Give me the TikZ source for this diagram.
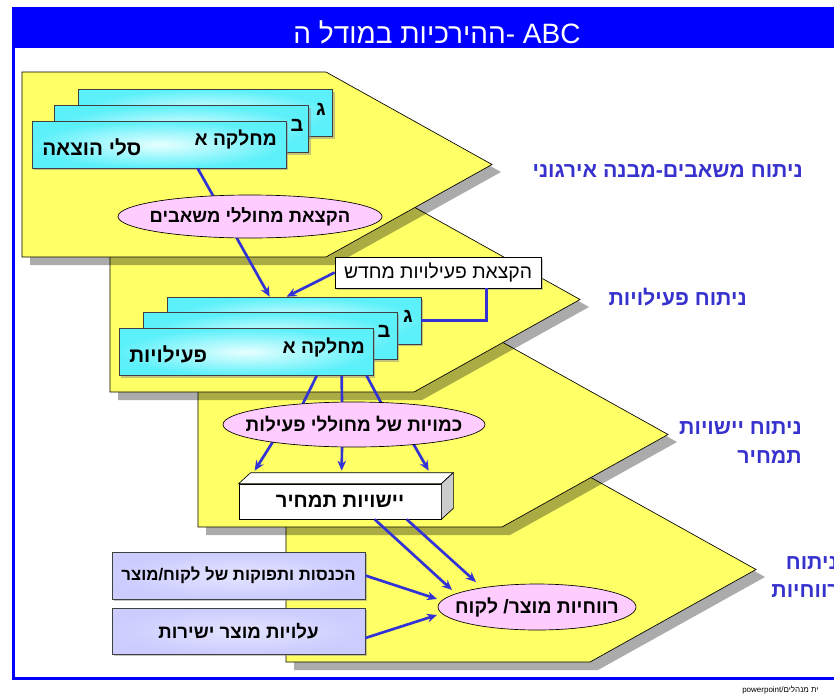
\documentclass[tikz,border=0pt]{standalone}
\usepackage{fontspec}
\setmainfont{Liberation Sans}
\newfontfamily\hebfont[Script=Hebrew]{Liberation Sans}
\TeXXeTstate=1
\usetikzlibrary{shapes.geometric,arrows.meta,calc,shadows}
\newcommand\heb[1]{{\hebfont\beginR #1\endR}}
\definecolor{titleblue}{RGB}{0,0,255}
\definecolor{layeryellow}{RGB}{255,255,102}
\definecolor{cyanedge}{RGB}{92,240,250}
\definecolor{cyanmid}{RGB}{230,255,255}
\definecolor{pinkfill}{RGB}{255,204,255}
\definecolor{lavender}{RGB}{204,204,255}
\definecolor{connblue}{RGB}{50,50,215}
\definecolor{labelblue}{RGB}{55,50,205}
\begin{document}
\begin{tikzpicture}[x=0.75pt,y=-0.75pt,
  layer/.style={fill=layeryellow,draw=black,line width=0.5pt},
  lshadow/.style={fill=black,fill opacity=0.33},
  cbox/.style={rectangle,draw=black!75,line width=0.5pt,inner color=cyanmid,outer color=cyanedge,
    minimum width=190.5pt,minimum height=35.25pt,inner sep=0pt,
    drop shadow={shadow xshift=1.5pt,shadow yshift=-1.5pt,fill=black!45}},
  lbox/.style={rectangle,draw=black!75,line width=0.5pt,inner color=lavender!55,outer color=lavender,
    minimum width=189.75pt,inner sep=0pt,
    drop shadow={shadow xshift=1.5pt,shadow yshift=-1.5pt,fill=black!45}},
  ell/.style={ellipse,draw=black,line width=0.5pt,fill=pinkfill,inner sep=0pt},
  txt/.style={font=\bfseries\fontsize{15}{18}\selectfont,inner sep=0pt},
  lbl/.style={font=\bfseries\fontsize{16}{19}\selectfont,text=labelblue,inner sep=0pt},
  conn/.style={draw=connblue,line width=2pt},
  arr/.style={conn,-{Stealth[length=7.5pt,width=6.5pt]}}
]
\useasboundingbox (0,0) rectangle (834,693);
\fill[white] (0,0) rectangle (834,693);
% frame
\fill[titleblue] (12,7) rectangle (840,48);
\node[white,font=\fontsize{21}{24}\selectfont,anchor=base,inner sep=0pt] (title) at (437,43) {\heb{ההירכיות במודל ה}- ABC};
\draw[titleblue,line width=2.25pt] (13.5,47) -- (13.5,678) -- (840,678);
\node[font=\fontsize{6}{7}\selectfont,anchor=north west,inner sep=0pt] (foot) at (742,686) {powerpoint/\heb{ית מנהלים}};
% layers
\foreach \i in {3,2,1,0}{
  \begin{scope}[shift={(88*\i,135*\i)}]
    \fill[lshadow] (30,79) -- (334,79) -- (501,172) -- (334,265) -- (30,265) -- cycle;
    \filldraw[layer] (22,72) -- (326,72) -- (492,164.5) -- (326,257) -- (22,257) -- cycle;
  \end{scope}
}
% layer 1 boxes
\node[cbox] (g1) at (205.5,113) {};
\node[cbox] (b1) at (181.5,129) {};
\node[cbox] (a1) at (159,144.5) {};
\node[txt,anchor=center] (g1t) at (321,109) {\heb{ג}};
\node[txt,anchor=center] (b1t) at (297,125) {\heb{ב}};
\node[txt,anchor=east,font=\bfseries\fontsize{14.4}{17}\selectfont] (a1t) at (277,139) {\heb{מחלקה א}};
\node[txt,anchor=west,font=\bfseries\fontsize{15.5}{18}\selectfont] (a1s) at (42,147) {\heb{סלי הוצאה}};
% layer 2 boxes
\node[cbox] (g2) at (294,320.5) {};
\node[cbox] (b2) at (270,336) {};
\node[cbox] (a2) at (246,352) {};
\node[txt,anchor=center] (g2t) at (408,316) {\heb{ג}};
\node[txt,anchor=center] (b2t) at (384,331) {\heb{ב}};
\node[txt,anchor=east,font=\bfseries\fontsize{14.4}{17}\selectfont] (a2t) at (365,347) {\heb{מחלקה א}};
\node[txt,anchor=west,font=\bfseries\fontsize{15.5}{18}\selectfont] (a2s) at (129,354) {\heb{פעילויות}};
% reallocation box
\node[rectangle,draw=black,line width=0.5pt,fill=white,minimum width=154.5pt,minimum height=23.25pt,inner sep=0pt,
  drop shadow={shadow xshift=1.5pt,shadow yshift=-1.5pt,fill=black!40},
  font=\fontsize{14.5}{17}\selectfont] (wb) at (438,272.5) {\heb{הקצאת פעילויות מחדש}};
% 3D box
\node[rectangle,draw=black,line width=0.5pt,fill=white,minimum width=151.5pt,minimum height=26.25pt,inner sep=0pt,
  font=\bfseries\fontsize{15.2}{18}\selectfont] (yb) at (340,501.5) {\heb{יישויות תמחיר}};
\filldraw[fill=white,draw=black,line width=0.5pt] (yb.north west) -- ++(12,-11) -- ($(yb.north east)+(12,-11)$) -- (yb.north east) -- cycle;
\filldraw[fill=black!20,draw=black,line width=0.5pt] (yb.north east) -- ++(12,-11) -- ($(yb.south east)+(12,-11)$) -- (yb.south east) -- cycle;
% lavender boxes
\node[lbox,minimum height=35.25pt,font=\bfseries\fontsize{12.6}{15}\selectfont] (L1) at (238.5,575.5) {\heb{הכנסות ותפוקות של לקוח/מוצר}};
\node[lbox,minimum height=34.5pt,font=\bfseries\fontsize{14}{17}\selectfont] (L2) at (238.5,631) {\heb{עלויות מוצר ישירות}};
% ellipse centres
\coordinate (e1c) at (250,216.5);
\coordinate (e2c) at (354,424.5);
\coordinate (e3c) at (537,607);
% connectors
\draw[arr] ($(a1.south west)+(166,0)$) -- ($(g2.north west)+(103,0)$);
\draw[arr] (wb.west) -- ($(g2.north west)+(120,0)$);
\draw[conn] ($(wb.south east)+(-55,0)$) |- (g2.east);
\draw[conn] ($(a2.south west)+(198,0)$) -- ($(e2c)+(-52,-19)$);
\draw[conn] ($(a2.south west)+(223,0)$) -- ($(e2c)+(-12,-21)$);
\draw[conn] ($(a2.south west)+(248,0)$) -- ($(e2c)+(28,-20)$);
\draw[arr] ($(e2c)+(-81,17)$) -- ($(yb.north west)+(16,-13)$);
\draw[arr] ($(e2c)+(-12,21)$) -- ($(yb.north west)+(103,-13)$);
\draw[arr] ($(e2c)+(58,17)$) -- ($(yb.north west)+(190,-13)$);
\draw[arr] ($(yb.south west)+(136,0)$) -- ($(e3c)+(-85,-17)$);
\draw[arr] ($(yb.south west)+(168,0)$) -- ($(e3c)+(-61,-25)$);
\draw[arr] (L1.east) -- ($(e3c)+(-100,-8)$);
\draw[arr] ($(L2.east)+(0,7)$) -- ($(e3c)+(-100,8)$);
% ellipses
\node[ell,minimum width=198pt,minimum height=32.25pt] (ell1) at (e1c) {};
\node[txt,font=\bfseries\fontsize{13.8}{16}\selectfont] (ell1t) at (ell1) {\heb{הקצאת מחוללי משאבים}};
\node[ell,minimum width=196.5pt,minimum height=33.75pt] (ell2) at (e2c) {};
\node[txt,font=\bfseries\fontsize{14.2}{17}\selectfont] (ell2t) at (ell2) {\heb{כמויות של מחוללי פעילות}};
\node[ell,minimum width=148.5pt,minimum height=34.5pt] (ell3) at (e3c) {};
\node[txt,font=\bfseries\fontsize{14.5}{17}\selectfont] (ell3t) at (ell3) {\heb{רווחיות מוצר/ לקוח}};
% right labels
\node[lbl,anchor=base east] (l1) at (803,177) {\heb{ניתוח משאבים-מבנה אירגוני}};
\node[lbl,anchor=base east] (l2) at (747,305) {\heb{ניתוח פעילויות}};
\node[lbl,anchor=base east] (l3a) at (802,434) {\heb{ניתוח יישויות}};
\node[lbl,anchor=base east] (l3b) at (802,463) {\heb{תמחיר}};
\node[lbl,anchor=base east] (l4a) at (838,569) {\heb{ניתוח}};
\node[lbl,anchor=base east] (l4b) at (840,597) {\heb{רווחיות}};
\end{tikzpicture}
\end{document}
